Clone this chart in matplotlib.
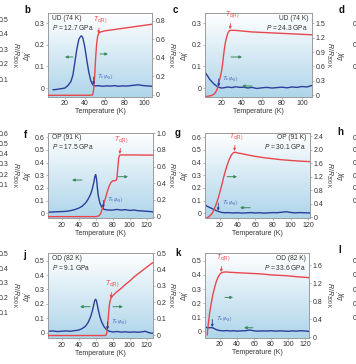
import numpy as np
import matplotlib
matplotlib.use("Agg")
import matplotlib.pyplot as plt
from matplotlib.colors import LinearSegmentedColormap
from matplotlib.ticker import FuncFormatter

plt.rcParams["font.family"] = ["Liberation Sans", "DejaVu Sans"]
plt.rcParams["mathtext.fontset"] = "custom"
plt.rcParams["mathtext.rm"] = "Liberation Sans"
plt.rcParams["mathtext.it"] = "Liberation Sans:italic"
plt.rcParams["mathtext.bf"] = "Liberation Sans:bold"

# ---- data (T in K) ----
# panel b: UD (74 K), 12.7 GPa
b_T_chi = [8, 12, 16, 20, 23, 26, 28, 30, 32, 34, 36, 37, 38, 40, 42, 44, 46, 48, 50,
           54, 58, 62, 66, 70, 74, 78, 82, 86, 90, 94, 98, 102, 106, 110]
b_chi = [-0.008, -0.006, -0.003, 0.0, 0.012, 0.03, 0.06, 0.12, 0.18, 0.225, 0.24, 0.24, 0.232,
         0.19, 0.13, 0.075, 0.035, 0.015, 0.01, 0.011, 0.008, 0.01, 0.009, 0.011, 0.008, 0.01,
         0.009, 0.011, 0.013, 0.015, 0.012, 0.01, 0.009, 0.007]
b_T_R = [3, 20, 40, 46, 48, 49, 50, 51, 52, 53, 54, 55, 60, 70, 80, 90, 100, 110]
b_R = [-0.005, -0.005, -0.005, -0.004, 0.0, 0.06, 0.2, 0.4, 0.55, 0.63, 0.66, 0.675,
       0.69, 0.705, 0.72, 0.735, 0.75, 0.765]

# panel c: UD (74 K), 24.3 GPa
c_T_chi = [4, 6, 8, 10, 12, 14, 16, 18, 20, 23, 26, 30, 34, 38, 42, 46, 50, 55, 60, 65,
           70, 75, 80, 85, 90, 95, 100, 105, 110]
c_chi = [0.068, 0.055, 0.04, 0.03, 0.02, 0.012, 0.006, 0.002, 0.0, 0.002, 0.005, 0.002,
         0.006, 0.003, 0.004, 0.0, 0.003, -0.002, 0.001, 0.003, 0.0, 0.002, 0.004, 0.001,
         0.005, 0.003, 0.007, 0.005, 0.012]
c_T_R = [5, 10, 13, 15, 17, 19, 20, 21, 22, 23, 24, 25, 26, 27, 28, 30, 35, 40, 50, 60,
         70, 80, 90, 100, 110]
c_R = [-0.03, -0.01, 0.03, 0.1, 0.25, 0.42, 0.52, 0.68, 0.86, 1.02, 1.14, 1.22, 1.29, 1.33,
       1.35, 1.355, 1.35, 1.34, 1.32, 1.31, 1.30, 1.29, 1.28, 1.27, 1.26]

# panel f: OP (91 K), 17.5 GPa
f_T_chi = [4, 10, 15, 20, 25, 30, 35, 40, 44, 48, 51, 54, 56, 58, 59, 60, 61, 62, 63, 65,
           67, 70, 75, 80, 85, 90, 95, 100, 105, 110, 115, 120, 125, 128]
f_chi = [0.008, 0.01, 0.012, 0.013, 0.015, 0.02, 0.028, 0.04, 0.055, 0.08, 0.11, 0.15,
         0.19, 0.25, 0.29, 0.305, 0.27, 0.2, 0.14, 0.08, 0.05, 0.03, 0.025, 0.025, 0.03,
         0.025, 0.028, 0.022, 0.025, 0.02, 0.018, 0.015, 0.013, 0.01]
f_T_R = [4, 20, 40, 60, 64, 66, 68, 70, 72, 74, 76, 78, 80, 82, 84, 85, 86, 87, 88, 89,
         90, 95, 100, 110, 120, 128]
f_R = [0.0, 0.0, 0.0, 0.0, 0.01, 0.04, 0.1, 0.17, 0.24, 0.31, 0.37, 0.41, 0.43, 0.43,
       0.435, 0.46, 0.58, 0.7, 0.735, 0.74, 0.74, 0.74, 0.74, 0.74, 0.738, 0.738]

# panel g: OP (91 K), 30.1 GPa
g_T_chi = [4, 7, 10, 13, 16, 19, 22, 26, 30, 35, 40, 45, 50, 55, 60, 65, 70, 75, 80, 85,
           90, 95, 100, 105, 110, 115, 122]
g_chi = [0.06, 0.05, 0.04, 0.03, 0.02, 0.012, 0.006, 0.004, 0.005, 0.002, 0.004, 0.001,
         0.003, 0.005, 0.002, 0.004, 0.001, 0.003, 0.005, 0.004, 0.008, 0.012, 0.006,
         0.003, 0.005, 0.004, 0.002]
g_T_R = [5, 8, 10, 12, 14, 16, 18, 20, 22, 24, 26, 28, 30, 32, 34, 36, 38, 40, 45, 50,
         60, 70, 80, 90, 100, 110, 122]
g_R = [-0.02, 0.03, 0.08, 0.16, 0.28, 0.41, 0.57, 0.76, 0.95, 1.17, 1.36, 1.53, 1.68, 1.8,
       1.88, 1.92, 1.92, 1.9, 1.88, 1.85, 1.8, 1.76, 1.73, 1.7, 1.68, 1.66, 1.645]

# panel j: OD (82 K), 9.1 GPa
j_T_chi = [4, 10, 15, 20, 25, 30, 35, 40, 44, 48, 51, 54, 56, 58, 59, 60, 61, 62, 63, 65,
           67, 70, 73, 76, 80, 85, 90, 95, 100, 105, 110, 115, 118, 121, 124, 128]
j_chi = [0.01, 0.012, 0.008, 0.01, 0.012, 0.01, 0.014, 0.018, 0.028, 0.045, 0.07, 0.11,
         0.15, 0.2, 0.225, 0.232, 0.22, 0.19, 0.16, 0.11, 0.075, 0.04, 0.02, 0.01, 0.005,
         0.008, 0.004, 0.006, 0.003, 0.005, 0.003, 0.006, 0.01, 0.004, -0.002, -0.005]
j_T_R = [4, 20, 40, 60, 70, 72, 73, 74, 75, 76, 77, 78, 80, 85, 90, 95, 100, 105, 110,
         115, 120, 125, 128]
j_R = [-0.003, -0.003, -0.003, -0.003, -0.003, -0.002, 0.01, 0.05, 0.12, 0.18, 0.21, 0.225,
       0.24, 0.265, 0.285, 0.31, 0.33, 0.355, 0.375, 0.395, 0.415, 0.435, 0.445]

# panel k: OD (82 K), 33.6 GPa
k_T_chi = [4, 7, 10, 12, 14, 16, 18, 20, 24, 28, 32, 36, 40, 45, 50, 55, 60, 65, 70, 75,
           80, 85, 90, 95, 100, 105, 110, 115, 120, 125]
k_chi = [0.028, 0.026, 0.027, 0.024, 0.018, 0.012, 0.008, 0.006, 0.004, 0.006, 0.003,
         0.005, 0.002, 0.004, 0.005, 0.01, 0.004, 0.002, 0.004, 0.003, 0.005, 0.002, 0.004,
         0.003, 0.001, 0.004, 0.002, 0.005, 0.003, 0.0]
k_T_R = [5, 6, 8, 10, 12, 14, 16, 18, 20, 22, 24, 26, 28, 30, 40, 50, 60, 70, 80, 90,
         100, 110, 125]
k_R = [0.05, 0.25, 0.55, 0.78, 0.97, 1.12, 1.25, 1.34, 1.4, 1.43, 1.44, 1.445, 1.445, 1.44,
       1.43, 1.42, 1.41, 1.40, 1.38, 1.37, 1.36, 1.34, 1.32]

# sample labels and transition temperatures (Tc from R, Tc from chi)
sample_info = {
    "b": ("UD (74 K)", "12.7"), "c": ("UD (74 K)", "24.3"),
    "f": ("OP (91 K)", "17.5"), "g": ("OP (91 K)", "30.1"),
    "j": ("OD (82 K)", "9.1"), "k": ("OD (82 K)", "33.6"),
}
tc_R = {"b": 53.5, "c": 28, "f": 88, "g": 36, "j": 77.5, "k": 21}
tc_chi = {"b": 49, "c": 17, "f": 69, "g": 18, "j": 74, "k": 11}

# ---- styling ----
W, H = 356, 364
BLUE = "#2b3f9c"
RED = "#e8474c"
GREEN = "#3c8a5e"
SPINE = "#9c9c9c"
TXT = "#333333"
bg_cmap = LinearSegmentedColormap.from_list("bg", ["#ffffff", "#aed5ea"])
CHI_LABEL = r"$\Delta\chi'$"
R_LABEL = r"$R/R_{\rm 300\ K}$"


def fmt(v, _pos=None):
    return "0" if abs(v) < 1e-9 else f"{v:.1f}"


def px_axes(fig, x0, y0, x1, y1):
    return fig.add_axes([x0 / W, 1 - y1 / H, (x1 - x0) / W, (y1 - y0) / H])


def style(ax):
    for s in ax.spines.values():
        s.set_color(SPINE)
        s.set_linewidth(0.6)
    ax.tick_params(direction="out", length=1.3, width=0.5, pad=1.2, labelsize=5,
                   color=SPINE, labelcolor=TXT)


def green_arrow(ax, x0, x1, y):
    ax.annotate("", xy=(x1, y), xytext=(x0, y), xycoords="axes fraction",
                arrowprops=dict(arrowstyle="-|>", color=GREEN, lw=0.7,
                                mutation_scale=4, shrinkA=0, shrinkB=0))


PANELS = [
    dict(key="b", rect=(48, 13.3, 152, 96.7), data=(b_T_chi, b_chi, b_T_R, b_R),
         xlim=(2.8, 108), xticks=[20, 40, 60, 80, 100],
         chi_lim=(-0.04, 0.345), chi_ticks=[0, 0.1, 0.2, 0.3],
         r_lim=(-0.02, 0.88), r_ticks=[0, 0.2, 0.4, 0.6, 0.8],
         right=False, green=[(0.24, 0.163, 0.476), (0.5, 0.577, 0.512)]),
    dict(key="c", rect=(205, 13.3, 312, 96.7), data=(c_T_chi, c_chi, c_T_R, c_R),
         xlim=(3.3, 110), xticks=[20, 40, 60, 80, 100],
         chi_lim=(-0.04, 0.345), chi_ticks=[0, 0.1, 0.2, 0.3],
         r_lim=(-0.035, 1.71), r_ticks=[0, 0.3, 0.6, 0.9, 1.2, 1.5],
         right=True, green=[(0.243, 0.346, 0.476), (0.44, 0.346, 0.128)]),
    dict(key="f", rect=(48, 132.7, 153.3, 218.3), data=(f_T_chi, f_chi, f_T_R, f_R),
         xlim=(3.9, 127.8), xticks=[20, 40, 60, 80, 100, 120],
         chi_lim=(-0.04, 0.636), chi_ticks=[0, 0.1, 0.2, 0.3, 0.4, 0.5, 0.6],
         r_lim=(-0.02, 1.007), r_ticks=[0, 0.2, 0.4, 0.6, 0.8, 1.0],
         right=False, green=[(0.323, 0.228, 0.447), (0.665, 0.76, 0.486)]),
    dict(key="g", rect=(205, 132.7, 310, 218.3), data=(g_T_chi, g_chi, g_T_R, g_R),
         xlim=(3, 122), xticks=[20, 40, 60, 80, 100, 120],
         chi_lim=(-0.04, 0.636), chi_ticks=[0, 0.1, 0.2, 0.3, 0.4, 0.5, 0.6],
         r_lim=(-0.03, 2.5), r_ticks=[0, 0.4, 0.8, 1.2, 1.6, 2.0, 2.4],
         right=True, green=[(0.21, 0.305, 0.486), (0.43, 0.333, 0.124)]),
    dict(key="j", rect=(48, 253.3, 153.3, 338.3), data=(j_T_chi, j_chi, j_T_R, j_R),
         xlim=(3.9, 127.8), xticks=[20, 40, 60, 80, 100, 120],
         chi_lim=(-0.039, 0.551), chi_ticks=[0, 0.1, 0.2, 0.3, 0.4, 0.5],
         r_lim=(-0.02, 0.5), r_ticks=[0, 0.1, 0.2, 0.3, 0.4, 0.5],
         right=False, green=[(0.399, 0.304, 0.372), (0.617, 0.712, 0.372)]),
    dict(key="k", rect=(205, 253.3, 309.3, 337.5), data=(k_T_chi, k_chi, k_T_R, k_R),
         xlim=(2.4, 125), xticks=[20, 40, 60, 80, 100, 120],
         chi_lim=(-0.043, 0.553), chi_ticks=[0, 0.1, 0.2, 0.3, 0.4, 0.5],
         r_lim=(-0.01, 1.86), r_ticks=[0, 0.4, 0.8, 1.2, 1.6],
         right=True, green=[(0.192, 0.269, 0.476), (0.46, 0.374, 0.116)]),
]

fig = plt.figure(figsize=(W / 100, H / 100), dpi=100)

for p in PANELS:
    x0, y0, x1, y1 = p["rect"]
    T_chi, chi, T_R, R = p["data"]
    ax = px_axes(fig, *p["rect"])
    ax.imshow(np.linspace(0, 1, 256).reshape(-1, 1), cmap=bg_cmap, aspect="auto",
              extent=(0, 1, 0, 1), transform=ax.transAxes, zorder=0)
    ax.plot(T_chi, chi, color=BLUE, lw=1.0, zorder=3)
    ax.set_xlim(*p["xlim"])
    ax.set_ylim(*p["chi_lim"])
    ax.set_xticks(p["xticks"])
    ax.set_yticks(p["chi_ticks"])
    ax.yaxis.set_major_formatter(FuncFormatter(fmt))
    style(ax)
    ax.set_xlabel("Temperature (K)", fontsize=5, color=TXT)
    ax.xaxis.set_label_coords(0.5, -11.5 / (y1 - y0))
    ax.set_ylabel(CHI_LABEL, fontsize=5, color=TXT, va="center", ha="center")
    ax.yaxis.set_label_coords(((28 if x0 < 100 else 185.5) - x0) / (x1 - x0), 0.5)

    ax2 = ax.twinx()
    ax2.plot(T_R, R, color=RED, lw=1.0, zorder=3)
    ax2.set_ylim(*p["r_lim"])
    ax2.set_yticks(p["r_ticks"])
    ax2.yaxis.set_major_formatter(FuncFormatter(fmt))
    style(ax2)
    ax2.set_ylabel(R_LABEL, fontsize=5, color=TXT, rotation=270, va="center", ha="center")
    ax2.yaxis.set_label_coords(((171 if x0 < 100 else 329) - x0) / (x1 - x0), 0.5)

    name, pres = sample_info[p["key"]]
    if p["right"]:
        ax.text(0.965, 0.985, f"{name}\n$P$ = {pres} GPa", transform=ax.transAxes,
                ha="right", va="top", fontsize=4.8, color=TXT, linespacing=1.2, zorder=5)
    else:
        ax.text(0.04, 0.985, f"{name}\n$P$ = {pres} GPa", transform=ax.transAxes,
                ha="left", va="top", fontsize=4.8, color=TXT, linespacing=1.2, zorder=5)

    # Tc markers
    tr = tc_R[p["key"]]
    ax2.annotate(r"$T_{\rm c(R)}$", xy=(tr, np.interp(tr, T_R, R)), xytext=(1.5, 7.5),
                 textcoords="offset points", ha="center", va="bottom", fontsize=4.8,
                 color=RED, arrowprops=dict(arrowstyle="-|>", color=RED, lw=0.6,
                                            mutation_scale=3.5, shrinkA=0.5, shrinkB=1))
    tcx = tc_chi[p["key"]]
    ycx = np.interp(tcx, T_chi, chi)
    ax2.annotate("", xy=(tcx, ycx), xytext=(0, 6), xycoords=ax.transData,
                 textcoords="offset points",
                 arrowprops=dict(arrowstyle="-|>", color=BLUE, lw=0.6,
                                 mutation_scale=3.5, shrinkA=0, shrinkB=0.5))
    ax2.annotate(r"$T_{\rm c(\Delta\chi')}$", xy=(tcx, ycx), xytext=(2.5, 5.5),
                 xycoords=ax.transData, textcoords="offset points",
                 ha="left", va="center", fontsize=4.5, color="#4a63b8")

    for a, b_, yy in p["green"]:
        green_arrow(ax2, a, b_, yy)

# neighbouring panels that are cut off by the crop: only their axes show
edge_left = [  # panels a, e, i: right-hand R/R300K axes
    ((-111, 13.3, -5, 96.7), (-0.018, 0.538), [0.1, 0.2, 0.3, 0.4, 0.5]),
    ((-111, 132.7, -5, 218.3), (-0.233, 0.606), [0.1, 0.2, 0.3, 0.4, 0.5, 0.6]),
    ((-111, 253.3, -5, 338.3), (-0.073, 0.5), [0.1, 0.2, 0.3, 0.4, 0.5]),
]
for rect, lim, ticks in edge_left:
    ax = px_axes(fig, *rect)
    ax.set_ylim(*lim)
    ax.yaxis.tick_right()
    ax.set_yticks(ticks)
    ax.set_xticks([])
    ax.yaxis.set_major_formatter(FuncFormatter(fmt))
    style(ax)
    ax.yaxis.set_label_position("right")
    ax.set_ylabel(R_LABEL, fontsize=5, color=TXT, rotation=270, va="center", ha="center")
    ax.yaxis.set_label_coords((15 - rect[0]) / (rect[2] - rect[0]), 0.5)

edge_right = [  # panels d, h, l: left-hand chi axes
    ((366, 13.3, 471, 96.7), (-0.04, 0.345), [0, 0.1, 0.2, 0.3]),
    ((366, 132.7, 471, 218.3), (-0.04, 0.636), [0, 0.1, 0.2, 0.3, 0.4, 0.5, 0.6]),
    ((366, 253.3, 471, 337.5), (-0.043, 0.553), [0, 0.1, 0.2, 0.3, 0.4, 0.5]),
]
for rect, lim, ticks in edge_right:
    ax = px_axes(fig, *rect)
    ax.set_ylim(*lim)
    ax.set_yticks(ticks)
    ax.set_xticks([])
    ax.yaxis.set_major_formatter(FuncFormatter(fmt))
    style(ax)
    ax.set_ylabel(CHI_LABEL, fontsize=5, color=TXT, va="center", ha="center")
    ax.yaxis.set_label_coords((342 - rect[0]) / (rect[2] - rect[0]), 0.5)

letters = [("b", 27, 10), ("c", 175, 10), ("d", 342, 10),
           ("f", 25, 135), ("g", 178, 133), ("h", 340, 132),
           ("j", 25, 255), ("k", 178, 253), ("l", 340, 250)]
for t, x, y in letters:
    fig.text(x / W, 1 - y / H, t, ha="center", va="center", fontsize=7,
             fontweight="bold", color="#111111")

fig.savefig("out.png", dpi=100)
